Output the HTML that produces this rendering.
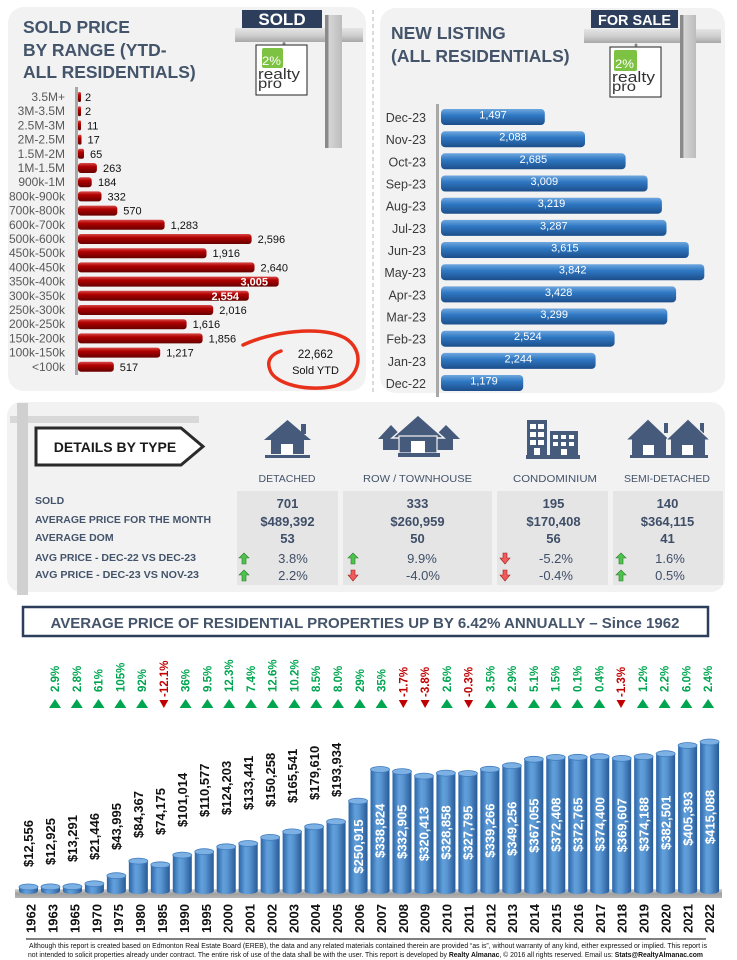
<!DOCTYPE html>
<html><head><meta charset="utf-8"><style>
html,body{margin:0;padding:0;background:#fff;}
svg{display:block;}
text{font-family:"Liberation Sans",Arial,sans-serif;}
</style></head><body>
<svg width="737" height="960" viewBox="0 0 737 960" xmlns="http://www.w3.org/2000/svg">
<defs>
<linearGradient id="red" x1="0" y1="0" x2="0" y2="1">
<stop offset="0" stop-color="#d94a4a"/><stop offset="0.35" stop-color="#b00000"/><stop offset="1" stop-color="#660000"/>
</linearGradient>
<linearGradient id="blue" x1="0" y1="0" x2="0" y2="1">
<stop offset="0" stop-color="#6fa7df"/><stop offset="0.4" stop-color="#2f78c3"/><stop offset="1" stop-color="#1c4e8a"/>
</linearGradient>
<linearGradient id="cyl" x1="0" y1="0" x2="1" y2="0">
<stop offset="0" stop-color="#2a64a6"/><stop offset="0.35" stop-color="#62a0dc"/><stop offset="0.55" stop-color="#5996d2"/><stop offset="1" stop-color="#275a97"/>
</linearGradient>
<linearGradient id="postg" x1="0" y1="0" x2="1" y2="0">
<stop offset="0" stop-color="#8a8a8a"/><stop offset="0.2" stop-color="#8a8a8a"/><stop offset="0.22" stop-color="#d6d6d6"/><stop offset="1" stop-color="#bcbcbc"/>
</linearGradient>
<linearGradient id="beamg" x1="0" y1="0" x2="0" y2="1">
<stop offset="0" stop-color="#e4e4e4"/><stop offset="0.5" stop-color="#d0d0d0"/><stop offset="1" stop-color="#a8a8a8"/>
</linearGradient>
<linearGradient id="plat" x1="0" y1="0" x2="0" y2="1">
<stop offset="0" stop-color="#d8d8d8"/><stop offset="0.5" stop-color="#a0a0a0"/><stop offset="1" stop-color="#b4b4b4"/>
</linearGradient>
</defs>

<!-- panels -->
<rect x="8" y="7" width="358" height="384" rx="16" fill="#f2f2f2"/>
<rect x="380" y="8" width="345" height="385" rx="16" fill="#f2f2f2"/>
<line x1="373" y1="10" x2="373" y2="395" stroke="#b4b4b4" stroke-width="1" stroke-dasharray="4,3"/>
<rect x="7" y="402" width="718" height="190" rx="14" fill="#f2f2f2"/>

<!-- LEFT TITLE -->
<g font-weight="bold" font-size="17.5" fill="#44546a">
<text x="23" y="33">SOLD PRICE</text>
<text x="23" y="56">BY RANGE (YTD-</text>
<text x="23" y="78">ALL RESIDENTIALS)</text>
</g>

<!-- SOLD sign -->
<rect x="235" y="28" width="128" height="14" fill="url(#beamg)"/>
<rect x="325" y="15" width="17" height="133" fill="url(#postg)"/>
<rect x="242" y="10" width="80" height="18" fill="#2c3e5c"/>
<text x="282" y="25" text-anchor="middle" font-weight="bold" font-size="17" fill="#fff">SOLD</text>
<circle cx="284" cy="43.5" r="1.5" fill="#888"/>
<rect x="256" y="45" width="51" height="50" fill="#fff" stroke="#222" stroke-width="1"/>
<rect x="262" y="48" width="21" height="20" rx="2" fill="#7dc242"/>
<text x="262" y="65" font-size="12" fill="#fff" textLength="19" lengthAdjust="spacingAndGlyphs">2%</text>
<text x="258" y="79" font-size="15" fill="#333" textLength="42" lengthAdjust="spacingAndGlyphs">realty</text>
<text x="258" y="88" font-size="14" fill="#333" textLength="24" lengthAdjust="spacingAndGlyphs">pro</text>

<!-- left chart -->
<rect x="75" y="87" width="3" height="288" fill="#a8a8a8"/>
<g font-size="12" fill="#595959" text-anchor="end">
<text x="65" y="101">3.5M+</text>
<text x="65" y="115.2">3M-3.5M</text>
<text x="65" y="129.4">2.5M-3M</text>
<text x="65" y="143.6">2M-2.5M</text>
<text x="65" y="157.8">1.5M-2M</text>
<text x="65" y="172">1M-1.5M</text>
<text x="65" y="186.2">900k-1M</text>
<text x="65" y="200.4">800k-900k</text>
<text x="65" y="214.6">700k-800k</text>
<text x="65" y="228.8">600k-700k</text>
<text x="65" y="243">500k-600k</text>
<text x="65" y="257.2">450k-500k</text>
<text x="65" y="271.4">400k-450k</text>
<text x="65" y="285.6">350k-400k</text>
<text x="65" y="299.8">300k-350k</text>
<text x="65" y="314">250k-300k</text>
<text x="65" y="328.2">200k-250k</text>
<text x="65" y="342.4">150k-200k</text>
<text x="65" y="356.6">100k-150k</text>
<text x="65" y="370.8">&lt;100k</text>
</g>
<g fill="url(#red)">
<rect x="78" y="92" width="3" height="10" rx="1.5"/>
<rect x="78" y="106.2" width="3" height="10" rx="1.5"/>
<rect x="78" y="120.4" width="3" height="10" rx="1.5"/>
<rect x="78" y="134.6" width="3.5" height="10" rx="1.5"/>
<rect x="78" y="148.8" width="6" height="10" rx="2"/>
<rect x="78" y="163" width="18.9" height="10" rx="3"/>
<rect x="78" y="177.2" width="13.7" height="10" rx="3"/>
<rect x="78" y="191.4" width="23.5" height="10" rx="3"/>
<rect x="78" y="205.6" width="39.3" height="10" rx="3"/>
<rect x="78" y="219.8" width="86.6" height="10" rx="3"/>
<rect x="78" y="234" width="173.6" height="10" rx="3"/>
<rect x="78" y="248.2" width="128.5" height="10" rx="3"/>
<rect x="78" y="262.4" width="176.5" height="10" rx="3"/>
<rect x="78" y="276.6" width="200.7" height="10" rx="3"/>
<rect x="78" y="290.8" width="170.8" height="10" rx="3"/>
<rect x="78" y="305" width="135.2" height="10" rx="3"/>
<rect x="78" y="319.2" width="108.6" height="10" rx="3"/>
<rect x="78" y="333.4" width="124.6" height="10" rx="3"/>
<rect x="78" y="347.6" width="82.2" height="10" rx="3"/>
<rect x="78" y="361.8" width="35.8" height="10" rx="3"/>
</g>
<g font-size="11" fill="#111">
<text x="85" y="101">2</text>
<text x="85" y="115.2">2</text>
<text x="87" y="129.4">11</text>
<text x="87.5" y="143.6">17</text>
<text x="90" y="157.8">65</text>
<text x="103" y="172">263</text>
<text x="98" y="186.2">184</text>
<text x="107.5" y="200.4">332</text>
<text x="123.3" y="214.6">570</text>
<text x="170.6" y="228.8">1,283</text>
<text x="257.6" y="243">2,596</text>
<text x="212.5" y="257.2">1,916</text>
<text x="260.5" y="271.4">2,640</text>
<text x="219.2" y="314">2,016</text>
<text x="192.6" y="328.2">1,616</text>
<text x="208.6" y="342.4">1,856</text>
<text x="166.2" y="356.6">1,217</text>
<text x="119.8" y="370.8">517</text>
</g>
<g font-size="11" font-weight="bold" fill="#fff" text-anchor="end">
<text x="268" y="285.6">3,005</text>
<text x="239" y="299.8">2,554</text>
</g>
<path d="M243 345 C270 332,320 325,345 338 C365 350,362 378,335 386 C310 392,275 385,270 370 C266 360,272 354,281 351" fill="none" stroke="#e8311a" stroke-width="3.5" stroke-linecap="round"/>
<text x="315.5" y="358" text-anchor="middle" font-size="11.5" fill="#111">22,662</text>
<text x="315.5" y="374" text-anchor="middle" font-size="11" fill="#111">Sold YTD</text>

<!-- RIGHT TITLE -->
<g font-weight="bold" font-size="17.5" fill="#44546a">
<text x="391" y="39">NEW LISTING</text>
<text x="391" y="62">(ALL RESIDENTIALS)</text>
</g>
<!-- FOR SALE sign -->
<rect x="584" y="29" width="137" height="14" fill="url(#beamg)"/>
<rect x="680" y="15" width="16" height="143" fill="url(#postg)"/>
<rect x="591" y="10" width="87" height="18" fill="#2c3e5c"/>
<text x="598" y="25" font-weight="bold" font-size="15" fill="#fff" textLength="73" lengthAdjust="spacingAndGlyphs">FOR SALE</text>
<circle cx="636" cy="45" r="1.5" fill="#888"/>
<rect x="610" y="47" width="51" height="50" fill="#fff" stroke="#222" stroke-width="1"/>
<rect x="614" y="50" width="23" height="21" rx="2" fill="#7dc242"/>
<text x="615" y="68" font-size="12" fill="#fff" textLength="19" lengthAdjust="spacingAndGlyphs">2%</text>
<text x="612" y="82" font-size="15" fill="#333" textLength="43" lengthAdjust="spacingAndGlyphs">realty</text>
<text x="612" y="91" font-size="14" fill="#333" textLength="24" lengthAdjust="spacingAndGlyphs">pro</text>

<!-- right chart -->
<rect x="436" y="104" width="3" height="293" fill="#a8a8a8"/>
<g font-size="12.5" fill="#3a3a3a" text-anchor="end">
<text x="426" y="122">Dec-23</text>
<text x="426" y="144.2">Nov-23</text>
<text x="426" y="166.3">Oct-23</text>
<text x="426" y="188.5">Sep-23</text>
<text x="426" y="210.7">Aug-23</text>
<text x="426" y="232.9">Jul-23</text>
<text x="426" y="255">Jun-23</text>
<text x="426" y="277.2">May-23</text>
<text x="426" y="299.4">Apr-23</text>
<text x="426" y="321.5">Mar-23</text>
<text x="426" y="343.7">Feb-23</text>
<text x="426" y="365.9">Jan-23</text>
<text x="426" y="388">Dec-22</text>
</g>
<g fill="url(#blue)">
<rect x="441" y="109" width="103.8" height="16" rx="4"/>
<rect x="441" y="131.2" width="144" height="16" rx="4"/>
<rect x="441" y="153.3" width="184.6" height="16" rx="4"/>
<rect x="441" y="175.5" width="206.6" height="16" rx="4"/>
<rect x="441" y="197.7" width="220.9" height="16" rx="4"/>
<rect x="441" y="219.9" width="225.5" height="16" rx="4"/>
<rect x="441" y="242" width="247.8" height="16" rx="4"/>
<rect x="441" y="264.2" width="263.3" height="16" rx="4"/>
<rect x="441" y="286.4" width="235.1" height="16" rx="4"/>
<rect x="441" y="308.5" width="226.3" height="16" rx="4"/>
<rect x="441" y="330.7" width="173.6" height="16" rx="4"/>
<rect x="441" y="352.9" width="154.6" height="16" rx="4"/>
<rect x="441" y="375" width="82.2" height="16" rx="4"/>
</g>
<g font-size="11" fill="#fff" text-anchor="middle">
<text x="493" y="118.5">1,497</text>
<text x="513" y="140.7">2,088</text>
<text x="533.3" y="162.8">2,685</text>
<text x="544.3" y="185">3,009</text>
<text x="551.5" y="207.2">3,219</text>
<text x="553.8" y="229.4">3,287</text>
<text x="564.9" y="251.5">3,615</text>
<text x="572.7" y="273.7">3,842</text>
<text x="558.6" y="295.9">3,428</text>
<text x="554.2" y="318">3,299</text>
<text x="527.8" y="340.2">2,524</text>
<text x="518.3" y="362.4">2,244</text>
<text x="484" y="384.5">1,179</text>
</g>

<!-- DETAILS -->
<rect x="10" y="416" width="189" height="7" fill="#d8d8d8"/>
<rect x="17" y="403" width="11" height="192" fill="#d0d0d0"/>
<polygon points="36,428 181,428 203,446.5 181,465 36,465" fill="#fff" stroke="#2a2a2a" stroke-width="3"/>
<text x="115" y="452" text-anchor="middle" font-weight="bold" font-size="14" fill="#1a1a1a">DETAILS BY TYPE</text>

<g fill="#465a7c">
<!-- detached -->
<polygon points="264,440 287.5,420 311,440"/>
<rect x="301" y="424" width="5" height="10"/>
<rect x="271" y="439" width="33" height="15"/>
<rect x="265" y="455" width="45" height="3"/>
<!-- townhouse -->
<polygon points="378,439 391,425 404,439"/>
<rect x="383" y="437" width="16" height="13"/>
<polygon points="432,439 446,425 460,439"/>
<rect x="437" y="437" width="16" height="13"/>
<polygon points="392,438 418,415 444,438" stroke="#f2f2f2" stroke-width="1.5"/>
<rect x="399" y="436" width="38" height="17" stroke="#f2f2f2" stroke-width="1.2"/>
<rect x="398" y="453" width="42" height="4"/>
<!-- condo -->
<rect x="527" y="420" width="20" height="35"/>
<rect x="550" y="431" width="28" height="24"/>
<rect x="526" y="455" width="54" height="4"/>
<!-- semi -->
<rect x="664" y="423" width="4" height="10"/>
<rect x="700" y="423" width="4" height="10"/>
<polygon points="626,440 648,419 670,440" stroke="#f2f2f2" stroke-width="1"/>
<polygon points="666,440 688,419 710,440" stroke="#f2f2f2" stroke-width="1"/>
<rect x="632" y="439" width="34" height="16"/>
<rect x="671" y="439" width="34" height="16"/>
<rect x="630" y="455" width="78" height="3"/>
</g>
<g fill="#fff">
<rect x="281" y="444" width="12" height="11"/>
<rect x="411" y="441" width="14" height="12"/>
<rect x="530" y="424" width="6" height="5"/><rect x="538" y="424" width="6" height="5"/>
<rect x="530" y="432" width="6" height="5"/><rect x="538" y="432" width="6" height="5"/>
<rect x="530" y="440" width="6" height="5"/><rect x="538" y="440" width="6" height="5"/>
<rect x="534" y="448" width="6" height="7"/>
<rect x="553" y="435" width="5" height="4"/><rect x="561" y="435" width="5" height="4"/><rect x="569" y="435" width="5" height="4"/>
<rect x="553" y="442" width="5" height="4"/><rect x="561" y="442" width="5" height="4"/><rect x="569" y="442" width="5" height="4"/>
<rect x="561" y="449" width="6" height="6"/>
<rect x="643" y="445" width="11" height="10"/>
<rect x="682" y="445" width="11" height="10"/>
</g>

<g font-size="10.5" fill="#44546a" text-anchor="middle">
<text x="287" y="482" textLength="57" lengthAdjust="spacingAndGlyphs">DETACHED</text>
<text x="417.5" y="482" textLength="109" lengthAdjust="spacingAndGlyphs">ROW / TOWNHOUSE</text>
<text x="555" y="482" textLength="84" lengthAdjust="spacingAndGlyphs">CONDOMINIUM</text>
<text x="667" y="482" textLength="86" lengthAdjust="spacingAndGlyphs">SEMI-DETACHED</text>
</g>

<g fill="#e5e5e5">
<rect x="237" y="491" width="101" height="94"/>
<rect x="343" y="491" width="149" height="94"/>
<rect x="497" y="491" width="111" height="94"/>
<rect x="613" y="491" width="110" height="94"/>
</g>

<g font-weight="bold" font-size="10.5" fill="#44546a">
<text x="35" y="504">SOLD</text>
<text x="35" y="523" textLength="176" lengthAdjust="spacingAndGlyphs">AVERAGE PRICE FOR THE MONTH</text>
<text x="35" y="541">AVERAGE DOM</text>
<text x="35" y="561" textLength="161" lengthAdjust="spacingAndGlyphs">AVG PRICE - DEC-22 VS DEC-23</text>
<text x="35" y="578" textLength="164" lengthAdjust="spacingAndGlyphs">AVG PRICE - DEC-23 VS NOV-23</text>
</g>

<g font-weight="bold" font-size="13" fill="#3f4e68" text-anchor="middle">
<text x="287.5" y="508">701</text>
<text x="287.5" y="526">$489,392</text>
<text x="287.5" y="543">53</text>
<text x="417.5" y="508">333</text>
<text x="417.5" y="526">$260,959</text>
<text x="417.5" y="543">50</text>
<text x="553.5" y="508">195</text>
<text x="553.5" y="526">$170,408</text>
<text x="553.5" y="543">56</text>
<text x="667.5" y="508">140</text>
<text x="667.5" y="526">$364,115</text>
<text x="667.5" y="543">41</text>
</g>
<g font-size="13" fill="#3f4e68" text-anchor="middle">
<text x="293" y="563">3.8%</text>
<text x="293" y="580">2.2%</text>
<text x="422" y="563">9.9%</text>
<text x="423" y="580">-4.0%</text>
<text x="556" y="563">-5.2%</text>
<text x="556" y="580">-0.4%</text>
<text x="670" y="563">1.6%</text>
<text x="670" y="580">0.5%</text>
</g>
<!-- arrows -->
<g fill="#4cc44c" stroke="#2a7a2a" stroke-width="0.6">
<polygon points="244,553 249,558 246,558 246,564 242,564 242,558 239,558"/>
<polygon points="244,570 249,575 246,575 246,581 242,581 242,575 239,575"/>
<polygon points="353,553 358,558 355,558 355,564 351,564 351,558 348,558"/>
<polygon points="621,553 626,558 623,558 623,564 619,564 619,558 616,558"/>
<polygon points="621,570 626,575 623,575 623,581 619,581 619,575 616,575"/>
</g>
<g fill="#f05a5a" stroke="#a02020" stroke-width="0.6">
<polygon points="351,570 355,570 355,575 358,575 353,581 348,575 351,575"/>
<polygon points="503,553 507,553 507,558 510,558 505,564 500,558 503,558"/>
<polygon points="503,570 507,570 507,575 510,575 505,581 500,575 503,575"/>
</g>

<!-- BOTTOM TITLE -->
<rect x="23" y="607" width="685" height="29" fill="#fff" stroke="#2c3e5c" stroke-width="2.5"/>
<text x="365" y="628" text-anchor="middle" font-weight="bold" font-size="15" fill="#44546a" textLength="629" lengthAdjust="spacingAndGlyphs">AVERAGE PRICE OF RESIDENTIAL PROPERTIES UP BY 6.42% ANNUALLY – Since 1962</text>

<!-- percentages -->
<g font-weight="bold" font-size="11.5" fill="#00a550">
<text transform="translate(59,692) rotate(-90)">2.9%</text>
<text transform="translate(80.77,692) rotate(-90)">2.8%</text>
<text transform="translate(102.54,692) rotate(-90)">61%</text>
<text transform="translate(124.31,692) rotate(-90)">105%</text>
<text transform="translate(146.08,692) rotate(-90)">92%</text>
<text transform="translate(189.62,692) rotate(-90)">36%</text>
<text transform="translate(211.39,692) rotate(-90)">9.5%</text>
<text transform="translate(233.16,692) rotate(-90)">12.3%</text>
<text transform="translate(254.93,692) rotate(-90)">7.4%</text>
<text transform="translate(276.7,692) rotate(-90)">12.6%</text>
<text transform="translate(298.47,692) rotate(-90)">10.2%</text>
<text transform="translate(320.24,692) rotate(-90)">8.5%</text>
<text transform="translate(342.01,692) rotate(-90)">8.0%</text>
<text transform="translate(363.78,692) rotate(-90)">29%</text>
<text transform="translate(385.55,692) rotate(-90)">35%</text>
<text transform="translate(450.86,692) rotate(-90)">2.6%</text>
<text transform="translate(494.4,692) rotate(-90)">3.5%</text>
<text transform="translate(516.17,692) rotate(-90)">2.9%</text>
<text transform="translate(537.94,692) rotate(-90)">5.1%</text>
<text transform="translate(559.71,692) rotate(-90)">1.5%</text>
<text transform="translate(581.48,692) rotate(-90)">0.1%</text>
<text transform="translate(603.25,692) rotate(-90)">0.4%</text>
<text transform="translate(646.79,692) rotate(-90)">1.2%</text>
<text transform="translate(668.56,692) rotate(-90)">2.2%</text>
<text transform="translate(690.33,692) rotate(-90)">6.0%</text>
<text transform="translate(712.1,692) rotate(-90)">2.4%</text>
</g>
<g font-weight="bold" font-size="11.5" fill="#c00000">
<text transform="translate(167.85,697) rotate(-90)">-12.1%</text>
<text transform="translate(407.32,697) rotate(-90)">-1.7%</text>
<text transform="translate(429.09,697) rotate(-90)">-3.8%</text>
<text transform="translate(472.63,697) rotate(-90)">-0.3%</text>
<text transform="translate(625.02,697) rotate(-90)">-1.3%</text>
</g>
<g fill="#00a550">
<polygon points="49,708 55,699 61,708"/>
<polygon points="70.77,708 76.77,699 82.77,708"/>
<polygon points="92.54,708 98.54,699 104.54,708"/>
<polygon points="114.31,708 120.31,699 126.31,708"/>
<polygon points="136.08,708 142.08,699 148.08,708"/>
<polygon points="179.62,708 185.62,699 191.62,708"/>
<polygon points="201.39,708 207.39,699 213.39,708"/>
<polygon points="223.16,708 229.16,699 235.16,708"/>
<polygon points="244.93,708 250.93,699 256.93,708"/>
<polygon points="266.7,708 272.7,699 278.7,708"/>
<polygon points="288.47,708 294.47,699 300.47,708"/>
<polygon points="310.24,708 316.24,699 322.24,708"/>
<polygon points="332.01,708 338.01,699 344.01,708"/>
<polygon points="353.78,708 359.78,699 365.78,708"/>
<polygon points="375.55,708 381.55,699 387.55,708"/>
<polygon points="440.86,708 446.86,699 452.86,708"/>
<polygon points="484.4,708 490.4,699 496.4,708"/>
<polygon points="506.17,708 512.17,699 518.17,708"/>
<polygon points="527.94,708 533.94,699 539.94,708"/>
<polygon points="549.71,708 555.71,699 561.71,708"/>
<polygon points="571.48,708 577.48,699 583.48,708"/>
<polygon points="593.25,708 599.25,699 605.25,708"/>
<polygon points="636.79,708 642.79,699 648.79,708"/>
<polygon points="658.56,708 664.56,699 670.56,708"/>
<polygon points="680.33,708 686.33,699 692.33,708"/>
<polygon points="702.1,708 708.1,699 714.1,708"/>
</g>
<g fill="#c00000">
<polygon points="159.35,700 168.35,700 163.85,708"/>
<polygon points="398.82,700 407.82,700 403.32,708"/>
<polygon points="420.59,700 429.59,700 425.09,708"/>
<polygon points="464.13,700 473.13,700 468.63,708"/>
<polygon points="616.52,700 625.52,700 621.02,708"/>
</g>

<!-- platform -->
<rect x="15" y="889" width="707" height="9" fill="url(#plat)"/>

<!-- cylinders -->
<g fill="url(#cyl)">
<rect x="19" y="887" width="19" height="4"/><ellipse cx="28.5" cy="891" rx="9.5" ry="3"/>
<rect x="40.97" y="886.9" width="19" height="4.1"/><ellipse cx="50.47" cy="891" rx="9.5" ry="3"/>
<rect x="62.94" y="886.7" width="19" height="4.3"/><ellipse cx="72.44" cy="891" rx="9.5" ry="3"/>
<rect x="84.91" y="883.8" width="19" height="7.2"/><ellipse cx="94.41" cy="891" rx="9.5" ry="3"/>
<rect x="106.88" y="875.7" width="19" height="15.3"/><ellipse cx="116.38" cy="891" rx="9.5" ry="3"/>
<rect x="128.85" y="861.1" width="19" height="29.9"/><ellipse cx="138.35" cy="891" rx="9.5" ry="3"/>
<rect x="150.82" y="864.8" width="19" height="26.2"/><ellipse cx="160.32" cy="891" rx="9.5" ry="3"/>
<rect x="172.79" y="855.1" width="19" height="35.9"/><ellipse cx="182.29" cy="891" rx="9.5" ry="3"/>
<rect x="194.76" y="851.7" width="19" height="39.3"/><ellipse cx="204.26" cy="891" rx="9.5" ry="3"/>
<rect x="216.73" y="846.8" width="19" height="44.2"/><ellipse cx="226.23" cy="891" rx="9.5" ry="3"/>
<rect x="238.7" y="843.5" width="19" height="47.5"/><ellipse cx="248.2" cy="891" rx="9.5" ry="3"/>
<rect x="260.67" y="837.4" width="19" height="53.6"/><ellipse cx="270.17" cy="891" rx="9.5" ry="3"/>
<rect x="282.64" y="831.9" width="19" height="59.1"/><ellipse cx="292.14" cy="891" rx="9.5" ry="3"/>
<rect x="304.61" y="826.8" width="19" height="64.2"/><ellipse cx="314.11" cy="891" rx="9.5" ry="3"/>
<rect x="326.58" y="821.7" width="19" height="69.3"/><ellipse cx="336.08" cy="891" rx="9.5" ry="3"/>
<rect x="348.55" y="801.1" width="19" height="89.9"/><ellipse cx="358.05" cy="891" rx="9.5" ry="3"/>
<rect x="370.52" y="769.5" width="19" height="121.5"/><ellipse cx="380.02" cy="891" rx="9.5" ry="3"/>
<rect x="392.49" y="771.6" width="19" height="119.4"/><ellipse cx="401.99" cy="891" rx="9.5" ry="3"/>
<rect x="414.46" y="776.1" width="19" height="114.9"/><ellipse cx="423.96" cy="891" rx="9.5" ry="3"/>
<rect x="436.43" y="773.1" width="19" height="117.9"/><ellipse cx="445.93" cy="891" rx="9.5" ry="3"/>
<rect x="458.4" y="773.5" width="19" height="117.5"/><ellipse cx="467.9" cy="891" rx="9.5" ry="3"/>
<rect x="480.37" y="769.3" width="19" height="121.7"/><ellipse cx="489.87" cy="891" rx="9.5" ry="3"/>
<rect x="502.34" y="765.7" width="19" height="125.3"/><ellipse cx="511.84" cy="891" rx="9.5" ry="3"/>
<rect x="524.31" y="759.3" width="19" height="131.7"/><ellipse cx="533.81" cy="891" rx="9.5" ry="3"/>
<rect x="546.28" y="757.4" width="19" height="133.6"/><ellipse cx="555.78" cy="891" rx="9.5" ry="3"/>
<rect x="568.25" y="757.3" width="19" height="133.7"/><ellipse cx="577.75" cy="891" rx="9.5" ry="3"/>
<rect x="590.22" y="756.7" width="19" height="134.3"/><ellipse cx="599.72" cy="891" rx="9.5" ry="3"/>
<rect x="612.19" y="758.4" width="19" height="132.6"/><ellipse cx="621.69" cy="891" rx="9.5" ry="3"/>
<rect x="634.16" y="756.7" width="19" height="134.3"/><ellipse cx="643.66" cy="891" rx="9.5" ry="3"/>
<rect x="656.13" y="753.7" width="19" height="137.3"/><ellipse cx="665.63" cy="891" rx="9.5" ry="3"/>
<rect x="678.1" y="745.5" width="19" height="145.5"/><ellipse cx="687.6" cy="891" rx="9.5" ry="3"/>
<rect x="700.07" y="742" width="19" height="149"/><ellipse cx="709.57" cy="891" rx="9.5" ry="3"/>
</g>
<g fill="#7db1e4" stroke="#3f7cc0" stroke-width="0.8">
<ellipse cx="28.5" cy="887" rx="9.5" ry="3"/>
<ellipse cx="50.47" cy="886.9" rx="9.5" ry="3"/>
<ellipse cx="72.44" cy="886.7" rx="9.5" ry="3"/>
<ellipse cx="94.41" cy="883.8" rx="9.5" ry="3"/>
<ellipse cx="116.38" cy="875.7" rx="9.5" ry="3"/>
<ellipse cx="138.35" cy="861.1" rx="9.5" ry="3"/>
<ellipse cx="160.32" cy="864.8" rx="9.5" ry="3"/>
<ellipse cx="182.29" cy="855.1" rx="9.5" ry="3"/>
<ellipse cx="204.26" cy="851.7" rx="9.5" ry="3"/>
<ellipse cx="226.23" cy="846.8" rx="9.5" ry="3"/>
<ellipse cx="248.2" cy="843.5" rx="9.5" ry="3"/>
<ellipse cx="270.17" cy="837.4" rx="9.5" ry="3"/>
<ellipse cx="292.14" cy="831.9" rx="9.5" ry="3"/>
<ellipse cx="314.11" cy="826.8" rx="9.5" ry="3"/>
<ellipse cx="336.08" cy="821.7" rx="9.5" ry="3"/>
<ellipse cx="358.05" cy="801.1" rx="9.5" ry="3"/>
<ellipse cx="380.02" cy="769.5" rx="9.5" ry="3"/>
<ellipse cx="401.99" cy="771.6" rx="9.5" ry="3"/>
<ellipse cx="423.96" cy="776.1" rx="9.5" ry="3"/>
<ellipse cx="445.93" cy="773.1" rx="9.5" ry="3"/>
<ellipse cx="467.9" cy="773.5" rx="9.5" ry="3"/>
<ellipse cx="489.87" cy="769.3" rx="9.5" ry="3"/>
<ellipse cx="511.84" cy="765.7" rx="9.5" ry="3"/>
<ellipse cx="533.81" cy="759.3" rx="9.5" ry="3"/>
<ellipse cx="555.78" cy="757.4" rx="9.5" ry="3"/>
<ellipse cx="577.75" cy="757.3" rx="9.5" ry="3"/>
<ellipse cx="599.72" cy="756.7" rx="9.5" ry="3"/>
<ellipse cx="621.69" cy="758.4" rx="9.5" ry="3"/>
<ellipse cx="643.66" cy="756.7" rx="9.5" ry="3"/>
<ellipse cx="665.63" cy="753.7" rx="9.5" ry="3"/>
<ellipse cx="687.6" cy="745.5" rx="9.5" ry="3"/>
<ellipse cx="709.57" cy="742" rx="9.5" ry="3"/>
</g>

<!-- value labels above -->
<g font-weight="bold" font-size="13" fill="#111">
<text transform="translate(33.2,867) rotate(-90)">$12,556</text>
<text transform="translate(55.17,865) rotate(-90)">$12,925</text>
<text transform="translate(77.14,862) rotate(-90)">$13,291</text>
<text transform="translate(99.11,860) rotate(-90)">$21,446</text>
<text transform="translate(121.08,850) rotate(-90)">$43,995</text>
<text transform="translate(143.05,838) rotate(-90)">$84,367</text>
<text transform="translate(165.02,835) rotate(-90)">$74,175</text>
<text transform="translate(186.99,827) rotate(-90)">$101,014</text>
<text transform="translate(208.96,817) rotate(-90)">$110,577</text>
<text transform="translate(230.93,815) rotate(-90)">$124,203</text>
<text transform="translate(252.9,810) rotate(-90)">$133,441</text>
<text transform="translate(274.87,807) rotate(-90)">$150,258</text>
<text transform="translate(296.84,803) rotate(-90)">$165,541</text>
<text transform="translate(318.81,800) rotate(-90)">$179,610</text>
<text transform="translate(340.78,797) rotate(-90)">$193,934</text>
</g>
<g font-weight="bold" font-size="13" fill="#fff" text-anchor="middle">
<text transform="translate(362.75,846.5) rotate(-90)">$250,915</text>
<text transform="translate(384.72,830.8) rotate(-90)">$338,824</text>
<text transform="translate(406.69,831.8) rotate(-90)">$332,905</text>
<text transform="translate(428.66,834) rotate(-90)">$320,413</text>
<text transform="translate(450.63,832.5) rotate(-90)">$328,858</text>
<text transform="translate(472.6,832.8) rotate(-90)">$327,795</text>
<text transform="translate(494.57,830.6) rotate(-90)">$339,266</text>
<text transform="translate(516.54,828.8) rotate(-90)">$349,256</text>
<text transform="translate(538.51,825.6) rotate(-90)">$367,055</text>
<text transform="translate(560.48,824.7) rotate(-90)">$372,408</text>
<text transform="translate(582.45,824.6) rotate(-90)">$372,765</text>
<text transform="translate(604.42,824.3) rotate(-90)">$374,400</text>
<text transform="translate(626.39,825.2) rotate(-90)">$369,607</text>
<text transform="translate(648.36,824.3) rotate(-90)">$374,188</text>
<text transform="translate(670.33,822.8) rotate(-90)">$382,501</text>
<text transform="translate(692.3,818.7) rotate(-90)">$405,393</text>
<text transform="translate(714.27,817) rotate(-90)">$415,088</text>
</g>

<!-- years -->
<g font-weight="bold" font-size="13" fill="#111">
<text transform="translate(35.65,933) rotate(-90)">1962</text>
<text transform="translate(57.54,933) rotate(-90)">1963</text>
<text transform="translate(79.43,933) rotate(-90)">1965</text>
<text transform="translate(101.32,933) rotate(-90)">1970</text>
<text transform="translate(123.21,933) rotate(-90)">1975</text>
<text transform="translate(145.1,933) rotate(-90)">1980</text>
<text transform="translate(166.99,933) rotate(-90)">1985</text>
<text transform="translate(188.88,933) rotate(-90)">1990</text>
<text transform="translate(210.77,933) rotate(-90)">1995</text>
<text transform="translate(232.66,933) rotate(-90)">2000</text>
<text transform="translate(254.55,933) rotate(-90)">2001</text>
<text transform="translate(276.44,933) rotate(-90)">2002</text>
<text transform="translate(298.33,933) rotate(-90)">2003</text>
<text transform="translate(320.22,933) rotate(-90)">2004</text>
<text transform="translate(342.11,933) rotate(-90)">2005</text>
<text transform="translate(364,933) rotate(-90)">2006</text>
<text transform="translate(385.89,933) rotate(-90)">2007</text>
<text transform="translate(407.78,933) rotate(-90)">2008</text>
<text transform="translate(429.67,933) rotate(-90)">2009</text>
<text transform="translate(451.56,933) rotate(-90)">2010</text>
<text transform="translate(473.45,933) rotate(-90)">2011</text>
<text transform="translate(495.34,933) rotate(-90)">2012</text>
<text transform="translate(517.23,933) rotate(-90)">2013</text>
<text transform="translate(539.12,933) rotate(-90)">2014</text>
<text transform="translate(561.01,933) rotate(-90)">2015</text>
<text transform="translate(582.9,933) rotate(-90)">2016</text>
<text transform="translate(604.79,933) rotate(-90)">2017</text>
<text transform="translate(626.68,933) rotate(-90)">2018</text>
<text transform="translate(648.57,933) rotate(-90)">2019</text>
<text transform="translate(670.46,933) rotate(-90)">2020</text>
<text transform="translate(692.35,933) rotate(-90)">2021</text>
<text transform="translate(714.24,933) rotate(-90)">2022</text>
</g>

<!-- footer -->
<line x1="26" y1="939" x2="706" y2="939" stroke="#000" stroke-width="1"/>
<text x="29" y="948" font-size="7" fill="#111" textLength="678" lengthAdjust="spacingAndGlyphs">Although this report is created based on Edmonton Real Estate Board (EREB), the data and any related materials contained therein are provided “as is”, without warranty of any kind, either expressed or implied.  This report is</text>
<text x="28" y="957" font-size="7" fill="#111" textLength="675" lengthAdjust="spacingAndGlyphs">not intended to solicit properties already under contract.  The entire risk of use of the data shall be with the user.  This report is developed by <tspan font-weight="bold">Realty Almanac</tspan>, © 2016 all rights reserved. Email us: <tspan font-weight="bold">Stats@RealtyAlmanac.com</tspan></text>
</svg>
</body></html>
